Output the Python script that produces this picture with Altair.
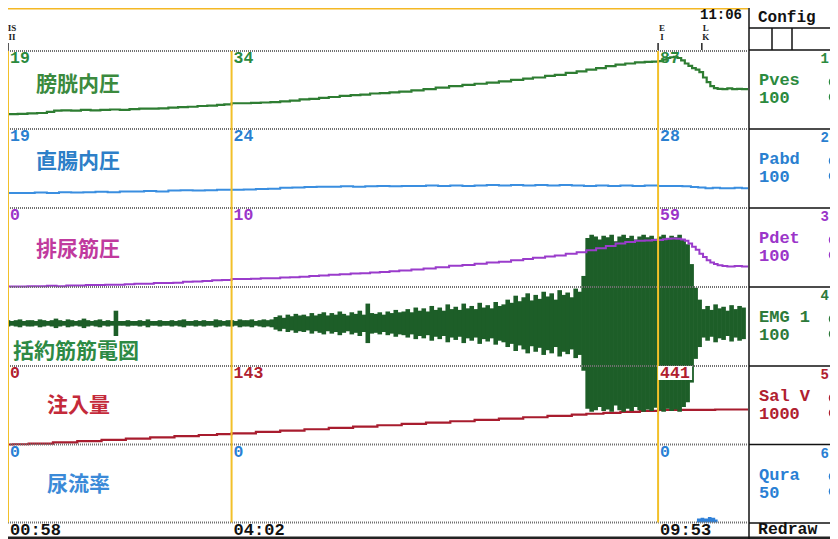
import altair as alt
import pandas as pd

# ---------------- values read from the recording ----------------
cursor_t = [58, 242, 593]                 # seconds at the three cursor lines
cursor_clock = ["00:58", "04:02", "09:53"]
end_clock = "11:06"

event_t = [58, 593, 629]
event_top = ["IS", "E", "L"]
event_bot = ["II", "I", "K"]

channel_names = ["Pves", "Pabd", "Pdet", "EMG 1", "Sal V", "Qura"]
channel_scale = ["100", "100", "100", "100", "1000", "50"]
channel_jp = ["膀胱内圧", "直腸内圧", "排尿筋圧", "括約筋筋電図", "注入量", "尿流率"]

pves_lbl = [19, 34, 87]
pabd_lbl = [19, 24, 28]
pdet_lbl = [0, 10, 59]
salv_lbl = [0, 143, 441]
qura_lbl = [0, 0, 0]

pves = [(58, 19), (66, 19.5), (74, 20), (82, 20.5), (90, 22), (96, 23.5), (102, 24), (110, 23.5), (118, 24.5), (126, 24),
        (134, 24.5), (142, 25), (150, 24.5), (158, 25.5), (166, 26), (174, 26), (182, 26.5), (190, 27.5), (198, 28), (206, 28.5),
        (214, 29.5), (222, 30), (230, 31), (236, 31.5), (242, 33), (250, 33), (258, 33.5), (266, 34), (274, 34.5), (282, 35.5),
        (290, 36.5), (298, 38), (306, 38.5), (314, 40), (322, 41), (331, 42.5), (340, 43.5), (348, 44), (356, 45.5), (364, 46),
        (372, 47), (380, 48), (390, 49.5), (400, 51), (410, 53), (421, 55), (432, 56.5), (442, 58), (452, 59.5), (462, 61),
        (472, 63), (482, 64.5), (490, 66), (500, 68), (508, 69.5), (517, 72), (526, 74), (534, 76), (542, 78), (550, 80.5),
        (558, 82.5), (566, 84), (574, 85.5), (582, 86), (588, 86.5), (593, 87), (597, 89), (600, 91), (603, 92), (606, 92.5),
        (609, 91), (612, 88), (615, 84), (618, 81), (621, 78), (624, 76), (627, 73), (630, 66), (633, 60), (636, 55),
        (639, 52.5), (642, 51.5), (646, 51), (650, 52), (654, 51), (658, 51.5), (662, 51), (667, 51)]

pabd = [(58, 19), (70, 19), (80, 19.5), (90, 19), (100, 20), (110, 19.5), (120, 20), (130, 20.5), (140, 20), (150, 21),
        (160, 21), (170, 21.5), (180, 21), (190, 22), (200, 22.5), (210, 22), (220, 22.5), (230, 23), (242, 23), (252, 23.5),
        (262, 24), (272, 24.5), (282, 25.5), (292, 26), (302, 26.5), (312, 27), (322, 27), (332, 27.5), (342, 27), (352, 27.5),
        (362, 28), (372, 27.5), (382, 28), (392, 28), (402, 28.5), (412, 28), (422, 28.5), (432, 28), (442, 28.5), (452, 29),
        (462, 28.5), (472, 29), (482, 28.5), (492, 29), (502, 28.5), (512, 29), (522, 28.5), (532, 28), (542, 28.5), (552, 28),
        (562, 28.5), (572, 28), (582, 28.5), (593, 28), (603, 28), (613, 27.5), (620, 26.5), (626, 26), (632, 25), (638, 25.5),
        (644, 25), (650, 25), (656, 25.5), (662, 25), (667, 25)]

pdet = [(58, 0.5), (66, 0.5), (74, 1), (82, 1), (90, 1.5), (98, 1), (106, 2), (114, 2), (122, 2.5), (130, 2.5),
        (138, 3), (146, 3), (154, 3.5), (162, 4), (170, 4), (178, 5), (186, 5), (194, 5.5), (202, 6.5), (210, 7),
        (218, 7.5), (226, 8.5), (234, 9), (242, 10), (250, 10), (258, 10.5), (266, 11), (274, 11), (282, 12), (290, 12.5),
        (298, 13), (306, 14), (314, 14.5), (322, 15.5), (331, 16), (340, 17), (348, 17.5), (356, 18.5), (364, 19), (372, 20),
        (380, 21), (390, 22), (400, 23.5), (410, 25), (421, 27), (432, 28), (442, 29.5), (452, 31), (462, 32), (472, 34),
        (482, 35.5), (490, 37), (500, 38.5), (508, 40), (517, 42), (526, 44), (534, 46.5), (542, 49), (550, 52), (558, 55),
        (566, 57), (574, 58.5), (582, 59), (588, 59.5), (593, 59.5), (597, 60.5), (600, 61), (604, 61.5), (608, 61), (612, 60),
        (615, 58.5), (618, 55), (621, 51), (624, 47), (627, 42), (630, 38), (633, 34), (636, 31), (639, 29), (642, 27.5),
        (646, 26.5), (650, 26), (656, 26.5), (662, 26), (667, 26)]

salv = [(58, 0), (62, 3), (75, 10), (95, 27), (115, 43), (135, 58), (155, 74), (175, 90), (195, 106), (215, 121),
        (230, 133), (242, 143), (262, 160), (282, 177), (302, 194), (322, 211), (342, 228), (362, 245), (382, 262), (402, 279),
        (422, 296), (442, 313), (462, 330), (482, 347), (502, 364), (522, 381), (534, 392), (548, 404), (562, 415), (578, 428),
        (593, 441), (630, 441), (640, 446), (667, 446)]

qura = [(58, 0), (623, 0), (625, 2.5), (628, 3), (631, 2.5), (634, 3.5), (637, 3), (640, 2), (642, 0), (667, 0)]

emg_t0, emg_dt = 58, 3.29
emg_amp = ([4, 3, 4, 5, 3, 4, 4, 3, 5, 4, 3, 4, 6, 4, 3, 5, 4, 3, 4, 6, 4, 3, 4, 5, 3, 4]
           + [3, 16, 3]
           + [3, 4, 3, 3, 4, 3, 5, 3, 3, 4, 3, 3, 4, 3, 4, 5, 3, 3, 4, 3, 4, 3, 3, 5, 4, 3, 4]
           + [4, 3, 5, 4, 4, 5, 3, 4, 5, 4, 5]
           + [8, 10, 7, 11, 9, 12, 10]
           + [11, 9, 13, 10, 12, 14, 10, 13, 11, 15, 12, 10, 14, 12, 16, 11, 25, 13, 12, 14, 11, 15, 13, 17, 14]
           + [15, 18, 14, 20, 16, 19, 15, 22, 17, 20, 16, 24, 18, 21, 17, 25, 19, 22, 18, 26, 20, 23, 19, 27, 22]
           + [24, 30, 26, 35, 28, 33, 38, 29, 36, 31, 40, 34, 38, 30, 42, 36, 39, 33, 44, 40]
           + [60, 108, 112, 110, 106, 111, 109, 112, 104, 110, 112, 108, 111, 106, 110, 112, 109, 111, 107, 110,
              112, 108, 111, 109, 112, 106, 100]
           + [75, 45, 30]
           + [18, 22, 17, 24, 19, 21, 16, 23, 18, 22, 20])

# ---------------- layout ----------------
W, H = 822, 531
W_TRACE = 740
row_top = [43, 121, 200, 279, 358, 436.5]
row_bot = [121, 200, 279, 358, 436.5, 514.5]
panel_top = [42, 121, 200, 279, 358, 436.5]
panel_bottom = 515
row_dom = [(0, 100), (0, 100), (0, 100), (-54, 46), (0, 1000), (0, 50)]

MONO = "Liberation Mono"
CJK = "Noto Sans CJK JP"
side_col = ["#2b8a3e", "#2a7fd0", "#9b35c9", "#2d7a3a", "#b0202f", "#2a7fd4"]
jp_col = ["#3b8a3e", "#2d7fc8", "#c03a9e", "#2e8a44", "#c42a3a", "#3b8ad8"]
jp_pos = [(28, 77), (28, 154), (28, 242), (5, 344), (39, 398), (39, 477)]

xs = alt.Scale(domain=[58, 667], range=[0, W_TRACE])
X = alt.X("t:Q", scale=xs, axis=None)


def ys(i):
    lo, hi = row_dom[i]
    return alt.Scale(domain=[lo, hi], range=[row_bot[i], row_top[i]], nice=False, zero=False)


one = pd.DataFrame({"k": [0]})
layers = []

# top orange strip
layers.append(alt.Chart(one).mark_rect(color="#f4b824").encode(
    x=alt.value(0), x2=alt.value(W_TRACE), y=alt.value(0), y2=alt.value(1.5)))


def line_layer(pairs, i, color, width=2.0):
    df = pd.DataFrame(pairs, columns=["t", "v"])
    return alt.Chart(df).mark_line(color=color, strokeWidth=width, interpolate="step-after").encode(
        x=X, y=alt.Y("v:Q", scale=ys(i), axis=None))


layers.append(line_layer(pves, 0, "#2e7d32", 2.2))
layers.append(line_layer(pabd, 1, "#3a8ee0", 2.0))
layers.append(line_layer(salv, 4, "#a81c2e", 2.2))

qdf = pd.DataFrame(qura, columns=["t", "v"])
layers.append(alt.Chart(qdf).mark_area(color="#2f80d8", interpolate="step-after").encode(
    x=X, y=alt.Y("v:Q", scale=ys(5), axis=None)))

# EMG envelope as vertical strokes
emg_df = pd.DataFrame({"t": [emg_t0 + k * emg_dt for k in range(len(emg_amp))], "a": emg_amp})
layers.append(alt.Chart(emg_df).transform_calculate(b="-datum.a").mark_rule(
    color="#1d5e28", strokeWidth=4.6).encode(
    x=X, y=alt.Y("a:Q", scale=ys(3), axis=None), y2="b:Q"))

layers.append(line_layer(pdet, 2, "#9a3ccb", 2.0))

# dotted row separators
sep_df = pd.DataFrame({"py": [row_top[0]] + row_bot})
layers.append(alt.Chart(sep_df).mark_rule(color="#707070", strokeWidth=2, strokeDash=[1, 1]).encode(
    y=alt.Y("py:Q", scale=None), x=alt.value(0), x2=alt.value(W_TRACE)))

# cursor lines
cur_df = pd.DataFrame({"t": cursor_t, "clock": cursor_clock})
layers.append(alt.Chart(cur_df).mark_rule(color="#f2c02a", strokeWidth=2).encode(
    x=X, y=alt.value(row_top[0]), y2=alt.value(row_bot[-1])))

# event markers (stacked two-letter codes)
ev_df = pd.DataFrame({"t": event_t, "a": event_top, "b": event_bot})
layers.append(alt.Chart(ev_df).mark_rule(color="#222", strokeWidth=1.5).encode(
    x=X, y=alt.value(35), y2=alt.value(42)))
layers.append(alt.Chart(ev_df).mark_text(font="Liberation Serif", fontWeight="bold", fontSize=9,
                                         color="#222", dx=4, baseline="middle").encode(
    x=X, y=alt.value(19.5), text="a:N"))
layers.append(alt.Chart(ev_df).mark_text(font="Liberation Serif", fontWeight="bold", fontSize=9,
                                         color="#222", dx=4, baseline="middle").encode(
    x=X, y=alt.value(28.5), text="b:N"))

# header clock at the right end
end_df = pd.DataFrame({"t": [667], "clock": [end_clock]})
layers.append(alt.Chart(end_df).mark_text(font=MONO, fontWeight="bold", fontSize=14, color="#111",
                                          align="right", baseline="middle", dx=-6).encode(
    x=X, y=alt.value(6.5), text="clock:N"))

# white box behind 441
box_df = pd.DataFrame({"t": [cursor_t[2]], "top": [row_dom[4][1]]})
layers.append(alt.Chart(box_df).mark_point(
    shape="M-1,-0.41L1,-0.41L1,0.41L-1,0.41Z", filled=True, opacity=1, color="white", strokeWidth=0,
    size=1156, xOffset=17, yOffset=7).encode(
    x=X, y=alt.Y("top:Q", scale=ys(4), axis=None)))

# cursor value labels
val_sets = [(0, pves_lbl), (1, pabd_lbl), (2, pdet_lbl), (4, salv_lbl), (5, qura_lbl)]
for i, vals in val_sets:
    df = pd.DataFrame({"t": cursor_t, "lab": [str(v) for v in vals], "top": [row_dom[i][1]] * len(cursor_t)})
    layers.append(alt.Chart(df).mark_text(align="left", baseline="middle", dx=2, dy=7, font=MONO,
                                          fontWeight="bold", fontSize=16.5, color=side_col[i]).encode(
        x=X, y=alt.Y("top:Q", scale=ys(i), axis=None), text="lab:N"))

# Japanese channel titles
for i, txt in enumerate(channel_jp):
    px, py = jp_pos[i]
    layers.append(alt.Chart(one).mark_text(text=txt, font=CJK, fontSize=21, fontWeight="bold",
                                           color=jp_col[i], align="left", baseline="middle").encode(
        x=alt.value(px), y=alt.value(py)))

# footer clock labels
layers.append(alt.Chart(cur_df).mark_text(font=MONO, fontWeight="bold", fontSize=17, color="#111",
                                          align="left", baseline="middle", dx=2).encode(
    x=X, y=alt.value(522), text="clock:N"))
layers.append(alt.Chart(one).mark_rect(color="#222").encode(
    x=alt.value(0), x2=alt.value(W), y=alt.value(528.5), y2=alt.value(H)))

# ---------------- right hand channel panel ----------------
layers.append(alt.Chart(one).mark_rule(color="#111", strokeWidth=1.5).encode(
    x=alt.value(741), y=alt.value(0), y2=alt.value(H)))
hl_df = pd.DataFrame({"py": [20] + panel_top + [panel_bottom]})
layers.append(alt.Chart(hl_df).mark_rule(color="#111", strokeWidth=1.5).encode(
    y=alt.Y("py:Q", scale=None), x=alt.value(741), x2=alt.value(W)))
vb_df = pd.DataFrame({"px": [764, 784]})
layers.append(alt.Chart(vb_df).mark_rule(color="#111", strokeWidth=1.5).encode(
    x=alt.X("px:Q", scale=None), y=alt.value(20), y2=alt.value(42)))

layers.append(alt.Chart(one).mark_text(text="Config", font=MONO, fontWeight="bold", fontSize=16,
                                       color="#111", align="left", baseline="middle").encode(
    x=alt.value(750), y=alt.value(8.5)))
layers.append(alt.Chart(one).mark_text(text="Redraw", font=MONO, fontWeight="bold", fontSize=16.5,
                                       color="#111", align="left", baseline="middle").encode(
    x=alt.value(750), y=alt.value(521)))

side_df = pd.DataFrame({
    "name": channel_names,
    "scale": channel_scale,
    "num": [str(k + 1) for k in range(len(channel_names))],
    "col": side_col,
    "py_name": [t + 30 for t in panel_top],
    "py_scale": [t + 48 for t in panel_top],
    "py_num": [t + 9 for t in panel_top],
    "py_b1": [t + 32 for t in panel_top],
    "py_b2": [t + 47 for t in panel_top],
})
col_enc = alt.Color("col:N", scale=None)
layers.append(alt.Chart(side_df).mark_text(font=MONO, fontWeight="bold", fontSize=17, align="left",
                                           baseline="middle").encode(
    x=alt.value(751), y=alt.Y("py_name:Q", scale=None), text="name:N", color=col_enc))
layers.append(alt.Chart(side_df).mark_text(font=MONO, fontWeight="bold", fontSize=17, align="left",
                                           baseline="middle").encode(
    x=alt.value(751), y=alt.Y("py_scale:Q", scale=None), text="scale:N", color=col_enc))
layers.append(alt.Chart(side_df).mark_text(font=MONO, fontWeight="bold", fontSize=14, align="right",
                                           baseline="middle").encode(
    x=alt.value(821), y=alt.Y("py_num:Q", scale=None), text="num:N", color=col_enc))
for fld in ["py_b1", "py_b2"]:
    layers.append(alt.Chart(side_df).mark_point(filled=True, opacity=1, size=110, shape="circle").encode(
        x=alt.value(826), y=alt.Y(f"{fld}:Q", scale=None), color=col_enc))

chart = alt.layer(*layers).resolve_scale(y="independent").properties(
    width=W, height=H, padding=0, background="white",
    autosize=alt.AutoSizeParams(type="none"),
).configure_view(stroke=None)

chart.save("out.html", embed_options={"renderer": "svg", "actions": False})
